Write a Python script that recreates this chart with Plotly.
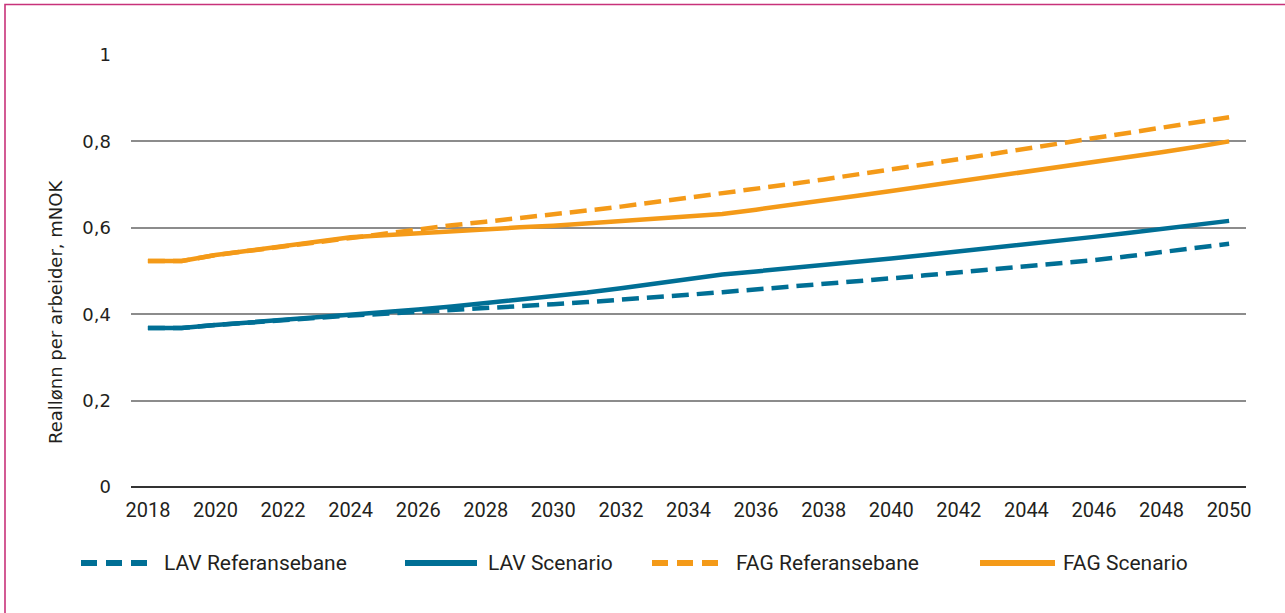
import plotly.graph_objects as go

years = list(range(2018, 2051))

lav_ref = [0.368, 0.368, 0.375, 0.381, 0.387, 0.392, 0.397, 0.401, 0.405, 0.409,
           0.414, 0.418, 0.423, 0.428, 0.433, 0.439, 0.445, 0.451, 0.457, 0.463,
           0.470, 0.476, 0.483, 0.490, 0.497, 0.503, 0.510, 0.517, 0.525, 0.534,
           0.543, 0.553, 0.563]
lav_scen = [0.368, 0.368, 0.375, 0.381, 0.387, 0.392, 0.397, 0.404, 0.411, 0.418,
            0.426, 0.433, 0.441, 0.450, 0.460, 0.470, 0.480, 0.492, 0.499, 0.506,
            0.513, 0.521, 0.529, 0.537, 0.545, 0.553, 0.561, 0.570, 0.579, 0.588,
            0.597, 0.606, 0.616]
fag_ref = [0.523, 0.523, 0.537, 0.547, 0.556, 0.567, 0.578, 0.588, 0.598, 0.606,
           0.614, 0.622, 0.631, 0.640, 0.649, 0.659, 0.669, 0.679, 0.690, 0.701,
           0.712, 0.723, 0.735, 0.747, 0.759, 0.771, 0.783, 0.795, 0.807, 0.819,
           0.831, 0.843, 0.856]
fag_scen = [0.523, 0.523, 0.537, 0.547, 0.556, 0.567, 0.578, 0.583, 0.588, 0.592,
            0.597, 0.601, 0.605, 0.610, 0.615, 0.620, 0.626, 0.632, 0.642, 0.652,
            0.663, 0.674, 0.685, 0.696, 0.707, 0.718, 0.730, 0.741, 0.752, 0.763,
            0.775, 0.787, 0.800]

series_names = ["LAV Referansebane", "LAV Scenario", "FAG Referansebane", "FAG Scenario"]
y_tickvals = [0, 0.2, 0.4, 0.6, 0.8, 1]
y_ticktext = ["0", "0,2", "0,4", "0,6", "0,8", "1"]
x_tickvals = list(range(2018, 2051, 2))
y_title = "Reallønn per arbeider, mNOK"

BLUE = "#006f95"
ORANGE = "#f49a18"
DASH = "17px,8px"
TXT = "#231f20"

series = [
    (series_names[0], lav_ref, BLUE, DASH),
    (series_names[1], lav_scen, BLUE, "solid"),
    (series_names[2], fag_ref, ORANGE, DASH),
    (series_names[3], fag_scen, ORANGE, "solid"),
]

fig = go.Figure()
for name, vals, col, dash in series:
    fig.add_trace(go.Scatter(x=years, y=vals, mode="lines", name=name,
                             line=dict(color=col, width=4.5, dash=dash),
                             showlegend=False))

W, H = 1285, 613
PL, PR, PT, PB = 131, 1246, 55, 487   # plot area in window pixels
L, T, R, B = PL, PT, W - PR, H - PB
pw, ph = PR - PL, PB - PT

def px_x(x):
    return (x - PL) / pw

def px_y(y):
    return (PB - y) / ph

shapes = []
annotations = []
# frame
shapes.append(dict(type="rect", xref="paper", yref="paper",
                   x0=px_x(5), x1=px_x(1295), y0=px_y(660), y1=px_y(4.5),
                   line=dict(color="#c8327a", width=1.6), fillcolor="rgba(0,0,0,0)",
                   layer="above"))
# y-axis title
annotations.append(dict(text=y_title, xref="paper", yref="paper",
                        x=px_x(55), y=px_y(312), textangle=-90,
                        xanchor="center", yanchor="middle", showarrow=False,
                        font=dict(family="DejaVu Sans", size=18, color=TXT)))
# manual legend
leg_y = px_y(563)
leg_items = [(81, 149, 162), (405, 477, 486), (652, 721, 734), (980, 1055, 1061)]
for (x0, x1, tx), (name, vals, col, dash) in zip(leg_items, series):
    shapes.append(dict(type="line", xref="paper", yref="paper",
                       x0=px_x(x0), x1=px_x(x1), y0=leg_y, y1=leg_y,
                       line=dict(color=col, width=6,
                                 dash=("16px,9px" if dash != "solid" else "solid"))))
    annotations.append(dict(text=name, xref="paper", yref="paper", x=px_x(tx), y=leg_y,
                            xanchor="left", yanchor="middle", showarrow=False,
                            font=dict(family="Roboto", size=21, color=TXT)))

fig.update_layout(
    width=W, height=H,
    margin=dict(l=L, r=R, t=T, b=B, autoexpand=False),
    paper_bgcolor="white", plot_bgcolor="white",
    separators=", ",
    shapes=shapes, annotations=annotations,
    xaxis=dict(range=[2017.5, 2050.5], tickvals=x_tickvals, showgrid=False,
               zeroline=False, showline=False, ticks="",
               ticklabelstandoff=9,
               tickfont=dict(family="Roboto", size=20, color=TXT)),
    yaxis=dict(range=[0, 1], tickvals=y_tickvals, ticktext=y_ticktext,
               showgrid=True, gridcolor="#8c8c8c", gridwidth=1.5,
               zeroline=True, zerolinecolor="#333333", zerolinewidth=1.5,
               ticks="", ticklabelstandoff=19,
               tickfont=dict(family="DejaVu Sans", size=18, color=TXT)),
)

fig.write_html("out.html", config={"displayModeBar": False},
               post_script="document.body.style.margin='0';document.body.style.overflow='hidden';")
